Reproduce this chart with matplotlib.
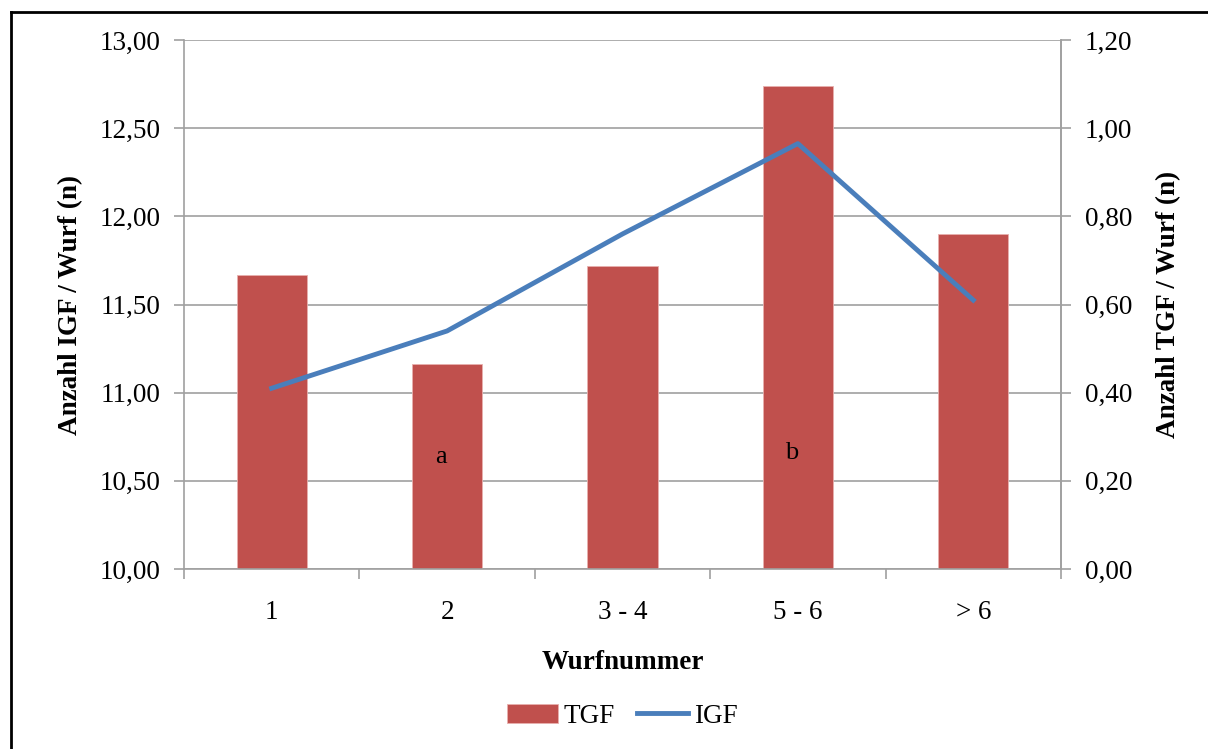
import matplotlib.pyplot as plt
from matplotlib.lines import Line2D
from matplotlib.ticker import FuncFormatter

plt.rcParams['font.family'] = ['Liberation Serif', 'DejaVu Serif']

# Wurfnummer categories
categories = ["1", "2", "3 - 4", "5 - 6", "> 6"]

# bars (left axis)
tgf = [11.67, 11.16, 11.72, 12.74, 11.90]

# line (right axis)
igf = [0.41, 0.54, 0.76, 0.965, 0.61]

# significance letters
letters = ["", "a", "", "b", ""]
letter_y = [10.65, 10.635, 10.65, 10.66, 10.65]

bar_color = "#C0504D"
line_color = "#4A7EBB"
axis_gray = "#A0A0A0"
fs = 19.5

fig = plt.figure(figsize=(12.08, 7.49), dpi=100)
ax = fig.add_axes([0.1523, 0.2403, 0.726, 0.7063])
x = list(range(len(categories)))

ax.bar(x, [v - 10 for v in tgf], bottom=10, width=0.4, color=bar_color,
       edgecolor="#E8B0AE", linewidth=0.6, label="TGF", zorder=2)
ax.set_ylim(10, 13)
ax.set_xlim(-0.5, len(categories) - 0.5)
ax.set_yticks([10, 10.5, 11, 11.5, 12, 12.5, 13])
ax.yaxis.set_major_formatter(FuncFormatter(lambda v, p: f"{v:.2f}".replace(".", ",")))
ax.grid(axis="y", color=axis_gray, linewidth=1.2, zorder=0)
ax.set_axisbelow(True)

ax.set_xticks(x)
ax.set_xticklabels(categories)
ax.set_xticks([i - 0.5 for i in range(len(categories) + 1)], minor=True)
ax.tick_params(axis="x", which="major", length=0, pad=22, labelsize=fs)
ax.tick_params(axis="x", which="minor", length=7, color=axis_gray, width=1.2)
ax.tick_params(axis="y", length=7, color=axis_gray, width=1.2, labelsize=fs, pad=10)

ax.spines["top"].set_visible(False)
for side in ["left", "right", "bottom"]:
    ax.spines[side].set_color(axis_gray)
    ax.spines[side].set_linewidth(1.2)

for xi, yi, t in zip(x, letter_y, letters):
    if t:
        ax.text(xi - 0.035, yi, t, ha="center", va="center", fontsize=19, zorder=4)

ax2 = ax.twinx()
ax2.plot(x, igf, color=line_color, linewidth=3.5, label="IGF", zorder=3)
ax2.set_ylim(0, 1.2)
ax2.set_yticks([0, 0.2, 0.4, 0.6, 0.8, 1.0, 1.2])
ax2.yaxis.set_major_formatter(FuncFormatter(lambda v, p: f"{v:.2f}".replace(".", ",")))
ax2.tick_params(axis="y", length=7, color=axis_gray, width=1.2, labelsize=fs, pad=10)
for side in ["top", "left", "bottom"]:
    ax2.spines[side].set_visible(False)
ax2.spines["right"].set_color(axis_gray)
ax2.spines["right"].set_linewidth(1.2)

ax.set_ylabel("Anzahl IGF / Wurf (n)", fontsize=fs, fontweight="bold", labelpad=12)
ax2.set_ylabel("Anzahl TGF / Wurf (n)", fontsize=fs, fontweight="bold", labelpad=17)
ax.set_xlabel("Wurfnummer", fontsize=fs, fontweight="bold", labelpad=18)

h1, l1 = ax.get_legend_handles_labels()
h2, l2 = ax2.get_legend_handles_labels()
fig.legend(h1 + h2, l1 + l2, loc="center", bbox_to_anchor=(0.515, 0.044), ncol=2,
           frameon=False, fontsize=fs, handlelength=1.9, handletextpad=0.2,
           columnspacing=0.8)

# outer frame (left and top edges visible)
fig.add_artist(Line2D([11 / 1208, 11 / 1208], [0, 1 - 12 / 749], transform=fig.transFigure,
                      color="black", linewidth=2))
fig.add_artist(Line2D([11 / 1208, 1], [1 - 12 / 749, 1 - 12 / 749], transform=fig.transFigure,
                      color="black", linewidth=2))

fig.savefig("out.png", dpi=100)
